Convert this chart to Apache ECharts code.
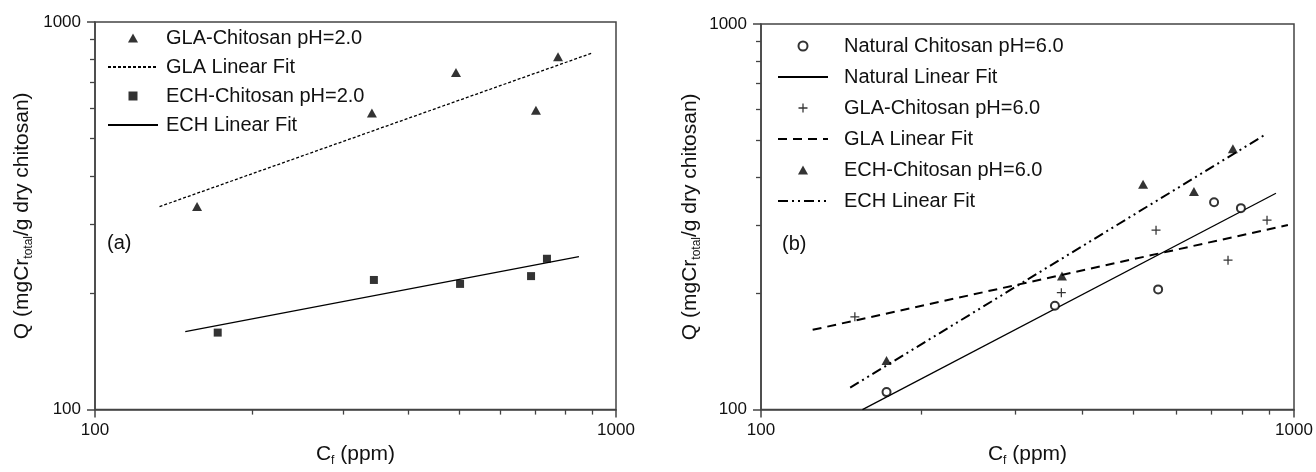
<!DOCTYPE html>
<html>
<head>
<meta charset="utf-8">
<script src="https://cdn.jsdelivr.net/npm/echarts@6/dist/echarts.min.js"></script>
<style>
  html, body { margin: 0; padding: 0; background: #fff; }
  #chart { width: 1316px; height: 472px; }
</style>
</head>
<body>
<div id="chart"></div>
<script>
// ---- Panel (a): adsorption at pH 2.0 ----
const cfGlaA = [157, 340, 493, 702, 774];
const qGlaA  = [334, 582, 741, 592, 814];
const cfEchA = [172, 343, 502, 687, 737];
const qEchA  = [158, 216, 211, 221, 245];
const fitCfGlaA = [133, 903];
const fitQGlaA  = [334, 833];
const fitCfEchA = [149, 849];
const fitQEchA  = [159, 248];

// ---- Panel (b): adsorption at pH 6.0 ----
const cfNatB = [172, 356, 556, 708, 795];
const qNatB  = [111, 186, 205, 345, 333];
const cfGlaB = [150, 366, 551, 752, 890];
const qGlaB  = [174, 201, 292, 244, 310];
const cfEchB = [172, 367, 521, 649, 768];
const qEchB  = [134, 222, 384, 368, 475];
const fitCfNatB = [155, 925];
const fitQNatB  = [100, 364];
const fitCfGlaB = [125, 974];
const fitQGlaB  = [161, 301];
const fitCfEchB = [147, 878];
const fitQEchB  = [114, 514];

// Axis decades and the minor ticks inside each decade
const axisMin = 100;
const axisMax = 1000;
const minorTickValues = [200, 300, 400, 500, 600, 700, 800, 900];

const FONT = '"Liberation Sans", Arial, Helvetica, sans-serif';
const INK = '#111';
const FRAME = '#444';

const pairs = (xs, ys) => xs.map((x, i) => [x, ys[i]]);
const minorLog = minorTickValues.map(v => Math.log10(v));

// Marker shapes as paths so the legend keeps their proportions
const trianglePath = 'path://M5,0L10,9L0,9Z';
const squarePath = 'path://M0,0H10V10H0Z';
const plusPath = 'path://M4.3,0H5.7V4.3H10V5.7H5.7V10H4.3V5.7H0V4.3H4.3Z';

function logAxis(gridIndex, isY, title, gap) {
  return {
    gridIndex,
    type: 'log',
    logBase: 10,
    min: axisMin,
    max: axisMax,
    position: isY ? 'left' : 'bottom',
    name: title,
    nameLocation: 'middle',
    nameGap: gap,
    nameRotate: isY ? 90 : 0,
    nameTextStyle: {
      rich: {
        t: { fontFamily: FONT, fontSize: 21, color: INK, lineHeight: 26 },
        s: { fontFamily: FONT, fontSize: 12, color: INK, lineHeight: 26, verticalAlign: 'bottom' }
      }
    },
    axisLine: { show: true, lineStyle: { color: FRAME, width: 1.5 } },
    axisTick: { show: true, inside: false, length: 8, lineStyle: { color: FRAME, width: 1.5 } },
    minorTick: { show: false },
    axisLabel: {
      fontFamily: FONT, fontSize: 17, color: INK, margin: isY ? 14 : 12,
      formatter: v => String(Math.round(v))
    },
    splitLine: { show: false }
  };
}

// Companion axis carrying the 200..900 tick marks of the log decade
function minorAxis(gridIndex, isY) {
  return {
    gridIndex,
    type: 'value',
    min: 2,
    max: 3,
    position: isY ? 'left' : 'bottom',
    axisLine: { show: false },
    axisTick: { show: true, inside: false, length: 5, customValues: minorLog,
                lineStyle: { color: FRAME, width: 1.3 } },
    axisLabel: { show: false },
    splitLine: { show: false }
  };
}

const yTitle = '{t|Q (mgCr}{s|total}{t|/g dry chitosan)}';
const xTitle = '{t|C}{s|f}{t| (ppm)}';

function scatter(name, xi, xs, ys, symbol, size, style) {
  return {
    name, type: 'scatter', xAxisIndex: xi, yAxisIndex: xi,
    data: pairs(xs, ys), symbol, symbolSize: size,
    itemStyle: style, z: 5
  };
}

function fit(name, xi, xs, ys, lineStyle) {
  return {
    name, type: 'line', xAxisIndex: xi, yAxisIndex: xi,
    data: pairs(xs, ys), symbol: 'none', showSymbol: false,
    lineStyle: Object.assign({ color: '#000' }, lineStyle),
    itemStyle: { color: '#000' }, z: 3
  };
}

// Legend entries for fitted lines show only the stroke
const lineEntry = name => ({ name, itemStyle: { opacity: 0 } });

const solidBlack = { color: '#000' };
const dashDotDot = [10, 4, 2, 4, 2, 4];

const option = {
  backgroundColor: '#fff',
  animation: false,
  grid: [
    { left: 95, top: 22, width: 521, height: 391, show: true,
      borderColor: FRAME, borderWidth: 1.5, backgroundColor: 'transparent' },
    { left: 761, top: 24, width: 533, height: 387, show: true,
      borderColor: FRAME, borderWidth: 1.5, backgroundColor: 'transparent' }
  ],
  xAxis: [
    logAxis(0, false, xTitle, 30),
    minorAxis(0, false),
    logAxis(1, false, xTitle, 30),
    minorAxis(1, false)
  ],
  yAxis: [
    logAxis(0, true, yTitle, 60),
    minorAxis(0, true),
    logAxis(1, true, yTitle, 58),
    minorAxis(1, true)
  ],
  legend: [
    {
      orient: 'vertical', left: 102, top: 23,
      itemWidth: 50, itemHeight: 9, itemGap: 9,
      selectedMode: false, symbolKeepAspect: true,
      textStyle: { fontFamily: FONT, fontSize: 20, color: INK, lineHeight: 20, padding: [0, 0, 0, 3] },
      data: ['GLA-Chitosan pH=2.0', lineEntry('GLA Linear Fit'),
             'ECH-Chitosan pH=2.0', lineEntry('ECH Linear Fit')]
    },
    {
      orient: 'vertical', left: 772, top: 31,
      itemWidth: 50, itemHeight: 9, itemGap: 11,
      selectedMode: false, symbolKeepAspect: true,
      textStyle: { fontFamily: FONT, fontSize: 20, color: INK, lineHeight: 20, padding: [0, 0, 0, 11] },
      formatter: name => name.replace(', pH=6.0', ''),
      data: ['Natural Chitosan pH=6.0', lineEntry('Natural Linear Fit'),
             'GLA-Chitosan pH=6.0', lineEntry('GLA Linear Fit, pH=6.0'),
             'ECH-Chitosan pH=6.0', lineEntry('ECH Linear Fit, pH=6.0')]
    }
  ],
  graphic: [
    { type: 'text', left: 107, top: 233, style: { text: '(a)', font: '20px ' + FONT, fill: INK } },
    { type: 'text', left: 782, top: 234, style: { text: '(b)', font: '20px ' + FONT, fill: INK } }
  ],
  series: [
    // panel (a)
    scatter('GLA-Chitosan pH=2.0', 0, cfGlaA, qGlaA, trianglePath, [10, 9], solidBlack),
    fit('GLA Linear Fit', 0, fitCfGlaA, fitQGlaA, { width: 1.3, type: [3, 2] }),
    scatter('ECH-Chitosan pH=2.0', 0, cfEchA, qEchA, squarePath, [8, 8], solidBlack),
    fit('ECH Linear Fit', 0, fitCfEchA, fitQEchA, { width: 1.3, type: 'solid' }),
    // panel (b)
    scatter('Natural Chitosan pH=6.0', 2, cfNatB, qNatB, 'emptyCircle', 8,
            { color: '#000', borderColor: '#000', borderWidth: 1.2 }),
    fit('Natural Linear Fit', 2, fitCfNatB, fitQNatB, { width: 1.3, type: 'solid' }),
    scatter('GLA-Chitosan pH=6.0', 2, cfGlaB, qGlaB, plusPath, 9, solidBlack),
    fit('GLA Linear Fit, pH=6.0', 2, fitCfGlaB, fitQGlaB, { width: 2, type: [9, 6] }),
    scatter('ECH-Chitosan pH=6.0', 2, cfEchB, qEchB, trianglePath, [10, 9], solidBlack),
    fit('ECH Linear Fit, pH=6.0', 2, fitCfEchB, fitQEchB, { width: 2, type: dashDotDot })
  ]
};

const chart = echarts.init(document.getElementById('chart'), null, { renderer: 'canvas' });
chart.setOption(option);
</script>
</body>
</html>
